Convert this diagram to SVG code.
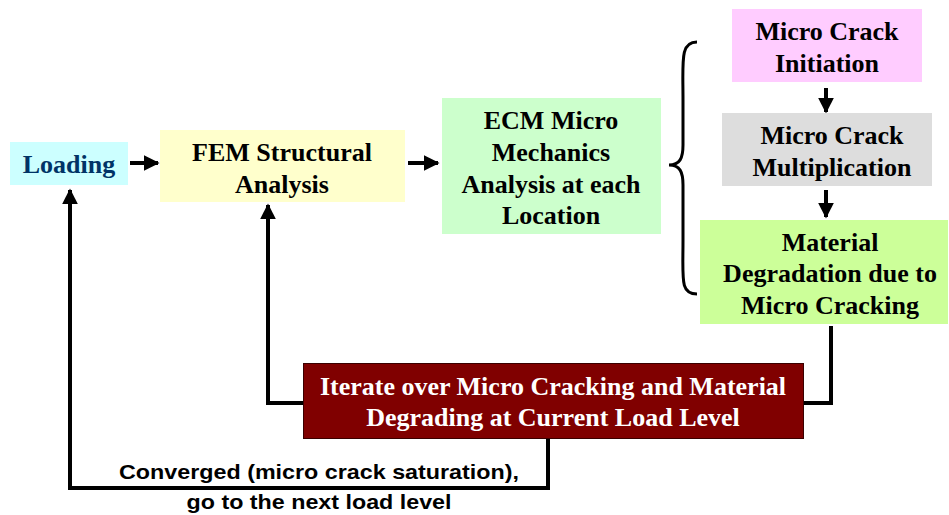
<svg xmlns="http://www.w3.org/2000/svg" width="949" height="515" viewBox="0 0 949 515">
<defs>
<style>
.t{font-family:"Liberation Serif","Times New Roman",serif;font-weight:bold;font-size:26px;text-anchor:middle;fill:#000}
.w{fill:#fff}
.b{fill:#003366}
.s{font-family:"Liberation Sans",Arial,sans-serif;font-weight:bold;font-size:21px;text-anchor:middle;fill:#000}
.c{stroke:#000;stroke-width:4;fill:none}
</style>
<marker id="ah" viewBox="0 0 10 10" refX="9" refY="5" markerWidth="4" markerHeight="4" orient="auto" markerUnits="strokeWidth">
<path d="M0,0 L10,5 L0,10 Z" fill="#000"/>
</marker>
</defs>
<rect width="949" height="515" fill="#fff"/>
<g id="connectors">
<line class="c" x1="130" y1="163" x2="158" y2="163" marker-end="url(#ah)"/>
<line class="c" x1="408" y1="163" x2="438" y2="163" marker-end="url(#ah)"/>
<line class="c" x1="826" y1="88" x2="826" y2="112" marker-end="url(#ah)"/>
<line class="c" x1="826" y1="190" x2="826" y2="217" marker-end="url(#ah)"/>
<path class="c" d="M831,326 V403 H803"/>
<path class="c" d="M303,403 H266 M268,403 V205" marker-end="url(#ah)"/>
<path class="c" d="M548,438 V488 H70 V190" marker-end="url(#ah)"/>
<path d="M697,42 C680,42 683,60 683,100 L683,145 C683,158 680,165 669,165 C680,165 683,172 683,185 L683,240 C683,280 680,294 697,294" stroke="#000" stroke-width="3" fill="none"/>
</g>
<g id="loading">
<rect x="10" y="142" width="118" height="43" fill="#ccffff"/>
<text class="t b" x="69" y="173">Loading</text>
</g>
<g id="fem">
<rect x="160" y="130" width="245" height="72" fill="#ffffcc"/>
<text class="t" x="282" y="161">FEM Structural</text>
<text class="t" x="282" y="193">Analysis</text>
</g>
<g id="ecm">
<rect x="442" y="98" width="219" height="136" fill="#ccffcc"/>
<text class="t" x="551" y="129">ECM Micro</text>
<text class="t" x="551" y="161">Mechanics</text>
<text class="t" x="551" y="193">Analysis at each</text>
<text class="t" x="551" y="224">Location</text>
</g>
<g id="initiation">
<rect x="732" y="9" width="190" height="73" fill="#ffccff"/>
<text class="t" x="827" y="40">Micro Crack</text>
<text class="t" x="827" y="72">Initiation</text>
</g>
<g id="multiplication">
<rect x="722" y="113" width="210" height="73" fill="#dddddd"/>
<text class="t" x="832" y="144">Micro Crack</text>
<text class="t" x="832" y="176">Multiplication</text>
</g>
<g id="degradation">
<rect x="700" y="220" width="248" height="104" fill="#ccff99"/>
<text class="t" x="830" y="251">Material</text>
<text class="t" x="830" y="282">Degradation due to</text>
<text class="t" x="830" y="314">Micro Cracking</text>
</g>
<g id="iterate">
<rect x="303.5" y="363.5" width="500" height="75" fill="#800000" stroke="#3a0000" stroke-width="1"/>
<text class="t w" x="553" y="395">Iterate over Micro Cracking and Material</text>
<text class="t w" x="553" y="426">Degrading at Current Load Level</text>
</g>
<g id="label">
<text class="s" x="319" y="479" textLength="400" lengthAdjust="spacingAndGlyphs">Converged (micro crack saturation),</text>
<text class="s" x="319" y="509" textLength="265" lengthAdjust="spacingAndGlyphs">go to the next load level</text>
</g>
</svg>
